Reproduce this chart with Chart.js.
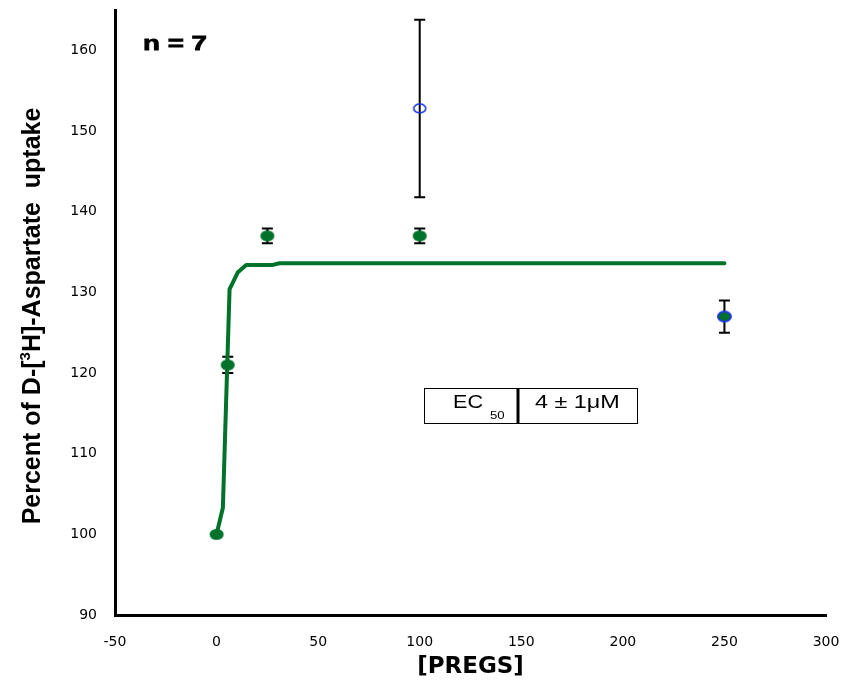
<!DOCTYPE html>
<html>
<head>
<meta charset="utf-8">
<script src="https://cdn.jsdelivr.net/npm/chart.js@4"></script>
<style>
  html, body { margin: 0; padding: 0; background: #fff; }
  #wrap { width: 843px; height: 681px; }
</style>
</head>
<body>
<div id="wrap"><canvas id="uptakeChart" width="843" height="681"></canvas></div>
<script>
// PREGS concentration (x) vs percent uptake (y)
const concMain = [0, 5.5, 25, 100];
const uptakeMain = [100, 121, 137, 137];
const errMain = [0, 1, 0.9, 0.9];

const concHigh = [250];
const uptakeHigh = [127];
const errHigh = [2];

const concOpen = [100];
const uptakeOpen = [152.8];
const errOpen = [11];

// fitted curve
const fitX = [0, 3.1, 6.4, 8, 10.5, 14.6, 27.7, 31, 250];
const fitY = [100, 103.3, 130.4, 131.2, 132.5, 133.4, 133.4, 133.6, 133.6];

const xTicks = [-50, 0, 50, 100, 150, 200, 250, 300];
const yTicks = [90, 100, 110, 120, 130, 140, 150, 160];

const GREEN = '#00722a';
const BLUE = '#1b35e0';

// markers in the figure are slightly wider than tall
function ellipseMarker(fill, stroke, lw, rx, ry) {
  const c = document.createElement('canvas');
  c.width = Math.ceil(2 * rx + lw + 2);
  c.height = Math.ceil(2 * ry + lw + 2);
  const g = c.getContext('2d');
  g.beginPath();
  g.ellipse(c.width / 2, c.height / 2, rx, ry, 0, 0, Math.PI * 2);
  if (fill) { g.fillStyle = fill; g.fill(); }
  if (stroke) { g.lineWidth = lw; g.strokeStyle = stroke; g.stroke(); }
  return c;
}
const dotGreen = ellipseMarker(GREEN, null, 0, 7, 5.5);
const dotHigh = ellipseMarker(GREEN, BLUE, 2, 6.5, 5);
const dotOpen = ellipseMarker(null, BLUE, 1.6, 6, 4.5);

const toPts = (xs, ys) => xs.map((x, i) => ({ x, y: ys[i] }));

// error bars, drawn under the markers
const errorBars = {
  id: 'errorBars',
  beforeDatasetsDraw(chart) {
    const { ctx, scales: { x, y } } = chart;
    const groups = [[concMain, uptakeMain, errMain], [concHigh, uptakeHigh, errHigh], [concOpen, uptakeOpen, errOpen]];
    ctx.save();
    ctx.strokeStyle = '#000';
    ctx.lineWidth = 2;
    groups.forEach(([xs, ys, es]) => {
      xs.forEach((cx, i) => {
        if (!es[i]) return;
        const px = x.getPixelForValue(cx);
        const top = y.getPixelForValue(ys[i] + es[i]);
        const bot = y.getPixelForValue(ys[i] - es[i]);
        ctx.beginPath();
        ctx.moveTo(px, top); ctx.lineTo(px, bot);
        ctx.moveTo(px - 5.5, top); ctx.lineTo(px + 5.5, top);
        ctx.moveTo(px - 5.5, bot); ctx.lineTo(px + 5.5, bot);
        ctx.stroke();
      });
    });
    ctx.restore();
  }
};

// stretched helvetica-like text
function wideText(ctx, text, x, y, font, sx, outline) {
  ctx.save();
  ctx.font = font;
  ctx.textBaseline = 'alphabetic';
  ctx.textAlign = 'left';
  ctx.translate(x, y);
  ctx.scale(sx, 1);
  ctx.fillText(text, 0, 0);
  if (outline) {
    ctx.strokeStyle = '#000';
    ctx.lineWidth = outline;
    ctx.strokeText(text, 0, 0);
  }
  ctx.restore();
}

const annotations = {
  id: 'annotations',
  afterDraw(chart) {
    const ctx = chart.ctx;
    ctx.save();
    ctx.fillStyle = '#000';

    // n = 7
    wideText(ctx, 'n = 7', 143, 50, 'bold 21px "Liberation Sans", Arial, sans-serif', 1.32, 0.8);

    // EC50 box
    ctx.strokeStyle = '#000';
    ctx.lineWidth = 1;
    ctx.strokeRect(424.5, 388.5, 213, 35);
    ctx.lineWidth = 3;
    ctx.beginPath();
    ctx.moveTo(518, 388); ctx.lineTo(518, 424);
    ctx.stroke();
    wideText(ctx, 'EC', 453, 408, '18px "Liberation Sans", Arial, sans-serif', 1.2);
    wideText(ctx, '50', 490, 419, '11px "Liberation Sans", Arial, sans-serif', 1.2);
    wideText(ctx, '4 \u00b1 1\u03bcM', 535, 408, '18px "Liberation Sans", Arial, sans-serif', 1.3);

    // y-axis title with superscript
    ctx.translate(40, 316);
    ctx.rotate(-Math.PI / 2);
    const big = 'bold 25px "Liberation Sans", Arial, sans-serif';
    const small = 'bold 15px "Liberation Sans", Arial, sans-serif';
    const parts = [['Percent of D-[', big, 0], ['3', small, -10], ['H]-Aspartate  uptake', big, 0]];
    let total = 0;
    parts.forEach(p => { ctx.font = p[1]; total += ctx.measureText(p[0]).width; });
    let cx = -total / 2;
    ctx.textBaseline = 'alphabetic';
    ctx.textAlign = 'left';
    parts.forEach(p => {
      ctx.font = p[1];
      ctx.fillText(p[0], cx, p[2]);
      cx += ctx.measureText(p[0]).width;
    });
    ctx.restore();
  }
};

const tickFont = { family: '"DejaVu Sans", sans-serif', size: 14 };

new Chart(document.getElementById('uptakeChart'), {
  type: 'scatter',
  data: {
    datasets: [
      { label: 'open', data: toPts(concOpen, uptakeOpen), pointStyle: dotOpen, pointRadius: 6, pointHoverRadius: 6 },
      { label: 'high', data: toPts(concHigh, uptakeHigh), pointStyle: dotHigh, pointRadius: 6, pointHoverRadius: 6 },
      { label: 'main', data: toPts(concMain, uptakeMain), pointStyle: dotGreen, pointRadius: 6, pointHoverRadius: 6 },
      {
        label: 'fit', type: 'line', data: toPts(fitX, fitY),
        borderColor: GREEN, borderWidth: 4, pointRadius: 0, tension: 0,
        borderCapStyle: 'round', borderJoinStyle: 'round', fill: false
      }
    ]
  },
  options: {
    responsive: false,
    animation: false,
    events: [],
    layout: { padding: { left: 0, right: 17, top: 10, bottom: 0 } },
    plugins: { legend: { display: false }, tooltip: { enabled: false } },
    scales: {
      x: {
        type: 'linear', min: -50, max: 300,
        afterFit: s => { s.height = 66; s.paddingLeft = 0; s.paddingRight = 0; },
        afterBuildTicks: s => { s.ticks = xTicks.map(v => ({ value: v })); },
        grid: { display: false, drawTicks: false },
        border: { display: true, color: '#000', width: 3 },
        ticks: { color: '#000', font: tickFont, padding: 19, maxRotation: 0 },
        title: {
          display: true, text: '[PREGS]', color: '#000',
          font: { family: '"DejaVu Sans", sans-serif', size: 23, weight: 'bold' },
          padding: { top: 0, bottom: 0 }
        }
      },
      y: {
        type: 'linear', min: 90, max: 165,
        afterFit: s => { s.width = 115; s.paddingTop = 0; s.paddingBottom = 0; },
        afterBuildTicks: s => { s.ticks = yTicks.map(v => ({ value: v })); },
        grid: { display: false, drawTicks: false },
        border: { display: true, color: '#000', width: 3 },
        ticks: { color: '#000', font: tickFont, padding: 18 }
      }
    }
  },
  plugins: [errorBars, annotations]
});
</script>
</body>
</html>
